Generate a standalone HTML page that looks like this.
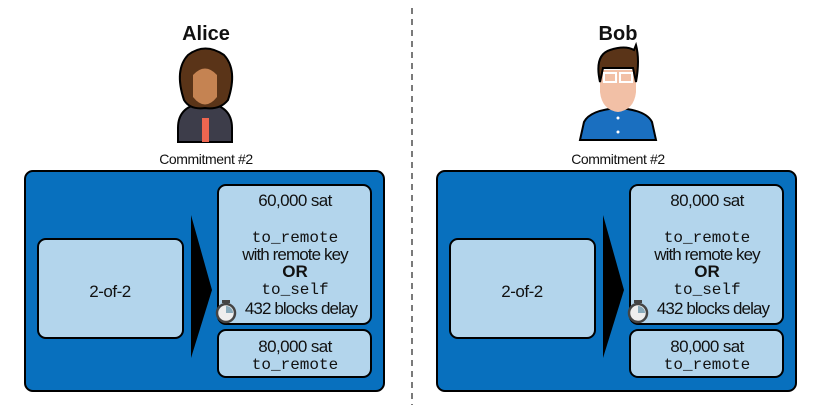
<!DOCTYPE html>
<html><head><style>body{margin:0;background:#fff}svg{display:block}
.s{font-family:"Liberation Sans",sans-serif;fill:#111}
.m{font-family:"Liberation Mono",monospace;fill:#111}
</style></head><body>
<svg width="825" height="411" viewBox="0 0 825 411" xmlns="http://www.w3.org/2000/svg">
<line x1="412" y1="8" x2="412" y2="405" stroke="#222" stroke-width="1.2" stroke-dasharray="6,5"/>
<defs>
<g id="panel">
<rect x="25" y="171" width="359" height="220" rx="8" fill="#0870be" stroke="#000" stroke-width="2"/>
<rect x="38" y="239" width="145" height="99" rx="8" fill="#b3d5ec" stroke="#000" stroke-width="2"/>
<text x="110" y="297" class="s" font-size="17" text-anchor="middle" fill="#333" letter-spacing="-0.5">2-of-2</text>
<polygon points="191,215 212,290 191,358" fill="#000"/>
<rect x="218" y="185" width="153" height="139" rx="8" fill="#b3d5ec" stroke="#000" stroke-width="2"/>
<rect x="218" y="330" width="153" height="47" rx="8" fill="#b3d5ec" stroke="#000" stroke-width="2"/>
<text x="295" y="352" class="s" font-size="17" text-anchor="middle" letter-spacing="-0.6">80,000 sat</text>
<text x="295" y="369" class="m" font-size="16" text-anchor="middle">to_remote</text>
<text x="295" y="242" class="m" font-size="16" text-anchor="middle">to_remote</text>
<text x="295" y="260" class="s" font-size="17" text-anchor="middle" letter-spacing="-0.9">with remote key</text>
<text x="295" y="277" class="s" font-size="17" font-weight="bold" text-anchor="middle">OR</text>
<text x="295" y="294" class="m" font-size="16" text-anchor="middle">to_self</text>
<text x="301" y="314" class="s" font-size="17" text-anchor="middle" letter-spacing="-0.9">432 blocks delay</text>
<circle cx="226" cy="313" r="9" fill="#eee" stroke="#444" stroke-width="2.5"/>
<rect x="222" y="300" width="8" height="3" fill="#444"/>
<path d="M226 313 L226 306 A7 7 0 0 1 233 313 Z" fill="#8ab"/>
</g>
</defs>
<use href="#panel"/>
<text x="295" y="206" class="s" font-size="17" text-anchor="middle" letter-spacing="-0.6">60,000 sat</text>
<g transform="translate(412,0)"><use href="#panel"/></g>
<text x="707" y="206" class="s" font-size="17" text-anchor="middle" letter-spacing="-0.6">80,000 sat</text>
<text x="206" y="164" class="s" font-size="14" text-anchor="middle" letter-spacing="-0.4">Commitment #2</text>
<text x="618" y="164" class="s" font-size="14" text-anchor="middle" letter-spacing="-0.4">Commitment #2</text>
<text x="206" y="40" class="s" font-size="20" font-weight="bold" text-anchor="middle">Alice</text>
<text x="618" y="40" class="s" font-size="20" font-weight="bold" text-anchor="middle">Bob</text>
<!-- Alice -->
<path d="M178 128 Q178 105 205 103 Q232 105 232 128 L232 142 L178 142 Z" fill="#3d3d4a" stroke="#000" stroke-width="2"/>
<rect x="202" y="118" width="7" height="24" fill="#ee6650"/>
<path d="M184 100 Q174 70 188 55 Q205 42 224 55 Q238 70 228 100 Q220 110 205 108 Q190 110 184 100Z" fill="#5a3418" stroke="#000" stroke-width="2"/>
<path d="M193 75 Q205 62 217 75 L217 97 Q205 112 193 97 Z" fill="#c58352"/>
<!-- Bob -->
<path d="M580 140 L584 122 Q590 110 618 108 Q646 110 652 122 L656 140 Z" fill="#1a6fc0" stroke="#000" stroke-width="2"/>
<circle cx="618" cy="118" r="1.5" fill="#fff"/><circle cx="618" cy="132" r="1.5" fill="#fff"/>
<path d="M600 70 L600 92 Q602 110 618 112 Q634 110 636 92 L636 70 Z" fill="#f2c0a6"/>
<path d="M600 82 Q594 55 610 50 Q625 45 634 50 L636 45 Q640 60 636 82 L633 68 L603 68 Z" fill="#5a3418" stroke="#000" stroke-width="2"/>
<rect x="604" y="73" width="12" height="9" fill="none" stroke="#fff" stroke-width="2"/>
<rect x="620" y="73" width="12" height="9" fill="none" stroke="#fff" stroke-width="2"/>
</svg>
</body></html>
